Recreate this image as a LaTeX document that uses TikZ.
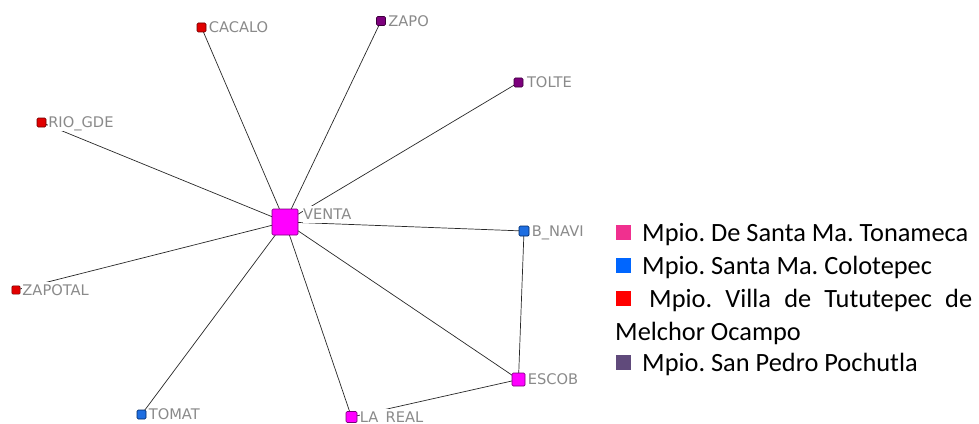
\documentclass[tikz,border=0pt]{standalone}
\usepackage{fontspec}
\setmainfont{DejaVu Sans}
\newfontfamily\legendfont{Carlito}
\usepackage{xcolor}
\usepackage{tikz}
\usetikzlibrary{
    positioning,
    backgrounds
}
\definecolor{lblgray}{RGB}{138,138,138}
\definecolor{edgegray}{RGB}{40,40,40}
\definecolor{magfill}{RGB}{255,0,255}
\definecolor{magline}{RGB}{120,0,120}
\definecolor{redfill}{RGB}{225,0,0}
\definecolor{redline}{RGB}{110,0,0}
\definecolor{purfill}{RGB}{125,0,125}
\definecolor{purline}{RGB}{60,0,60}
\definecolor{blufill}{RGB}{30,110,225}
\definecolor{bluline}{RGB}{0,40,100}
\definecolor{keypink}{RGB}{240,48,143}
\definecolor{keyblue}{RGB}{0,102,255}
\definecolor{keyred}{RGB}{255,0,0}
\definecolor{keypurple}{RGB}{96,74,123}
\tikzstyle{vertex} = [
    rectangle, draw,
    rounded corners=1pt,
    inner sep=0pt,
    line width=0.5pt
]
\tikzstyle{tonameca} = [vertex, fill=magfill, draw=magline]
\tikzstyle{colotepec} = [vertex, fill=blufill, draw=bluline]
\tikzstyle{tututepec} = [vertex, fill=redfill, draw=redline]
\tikzstyle{pochutla} = [vertex, fill=purfill, draw=purline]
\tikzstyle{lbl} = [
    font=\fontsize{12.5}{12.5}\selectfont,
    text=lblgray,
    fill=white,
    inner sep=0pt,
    text height=1.1em,
    text depth=0.3em,
    anchor=base west
]
\tikzstyle{edge} = [
    draw=edgegray,
    line width=0.6pt
]
\tikzstyle{legend} = [
    font=\legendfont\fontsize{22.5}{29}\selectfont\frenchspacing,
    inner sep=0pt,
    anchor=base west
]
\tikzstyle{swatch} = [
    rectangle,
    inner sep=0pt,
    minimum size=0.45cm
]

\begin{document}
\begin{tikzpicture}[x=0.03cm, y=-0.03cm]
    \useasboundingbox (0,0) rectangle (979,424);

    % vertices
    \node[tonameca, minimum size=0.78cm] (venta) at (285,222) {};
    \node[tututepec, minimum size=0.27cm] (cacalo) at (201.5,27.5) {};
    \node[pochutla, minimum size=0.27cm] (zapo) at (381,21) {};
    \node[pochutla, minimum size=0.27cm] (tolte) at (518.5,82.5) {};
    \node[tututepec, minimum size=0.27cm] (riogde) at (41.5,122.5) {};
    \node[tututepec, minimum size=0.25cm] (zapotal) at (16,290) {};
    \node[colotepec, minimum size=0.3cm] (bnavi) at (524,231) {};
    \node[tonameca, minimum size=0.39cm] (escob) at (518.5,379.5) {};
    \node[tonameca, minimum size=0.33cm] (lareal) at (351.5,417) {};
    \node[colotepec, minimum size=0.27cm] (tomat) at (141.5,414.5) {};

    % labels
    \node[lbl] (venta-l) at ([xshift=4pt, yshift=-8.8pt]venta.north east) {VENTA};
    \node[lbl] (cacalo-l) at ([xshift=2pt, yshift=-4.4pt]cacalo.east) {CACALO};
    \node[lbl] (zapo-l) at ([xshift=2pt, yshift=-4.4pt]zapo.east) {ZAPO};
    \node[lbl] (tolte-l) at ([xshift=3pt, yshift=-4.4pt]tolte.east) {TOLTE};
    \node[lbl] (riogde-l) at ([xshift=1.5pt, yshift=-4.4pt]riogde.east) {RIO\_GDE};
    \node[lbl] (zapotal-l) at ([xshift=1.5pt, yshift=-4.4pt]zapotal.east) {ZAPOTAL};
    \node[lbl] (bnavi-l) at ([xshift=2pt, yshift=-4.4pt]bnavi.east) {B\_NAVI};
    \node[lbl] (escob-l) at ([xshift=2pt, yshift=-4.4pt]escob.east) {ESCOB};
    \node[lbl, text depth=0pt] (lareal-l) at ([xshift=2pt, yshift=-4.4pt]lareal.east) {LA\_REAL};
    \node[lbl] (tomat-l) at ([xshift=2pt, yshift=-4.4pt]tomat.east) {TOMAT};

    % edges
    \begin{scope}[on background layer]
        \foreach \v in {cacalo,zapo,tolte,riogde,zapotal,bnavi,escob,lareal,tomat}
            \draw[edge] (venta.center) -- (\v.center);
        \draw[edge] (bnavi.center) -- (escob.center);
        \draw[edge] (escob.center) -- (lareal.center);
    \end{scope}

    % legend
    \node[swatch, fill=keypink] (key-a) at (623.5,232) {};
    \node[swatch, fill=keyblue] (key-b) at (623.5,265.5) {};
    \node[swatch, fill=keyred] (key-c) at (623.5,298.5) {};
    \node[swatch, fill=keypurple] (key-d) at (623.5,362.5) {};
    \node[legend] (leg-a) at (642,241) {Mpio. De Santa Ma. Tonameca};
    \node[legend] (leg-b) at (642,274) {Mpio. Santa Ma. Colotepec};
    \node[legend] (leg-c) at (649,307) {\makebox[9.69cm][s]{Mpio. Villa de Tututepec de}};
    \node[legend] (leg-c2) at (615,340) {Melchor Ocampo};
    \node[legend] (leg-d) at (642,371) {Mpio. San Pedro Pochutla};
\end{tikzpicture}
\end{document}
